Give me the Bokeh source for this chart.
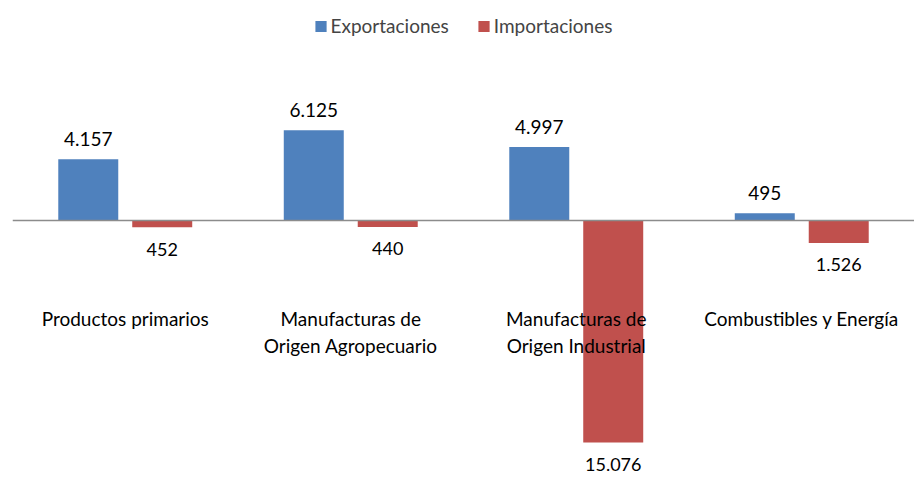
from bokeh.plotting import figure
from bokeh.models import ColumnDataSource, Range1d, Span, Legend, LegendItem
from bokeh.core.properties import value
from bokeh.embed import file_html
from bokeh.resources import INLINE

categories = ["Productos primarios", "Manufacturas de\nOrigen Agropecuario",
              "Manufacturas de\nOrigen Industrial", "Combustibles y Energía"]
exportaciones = [4157, 6125, 4997, 495]
importaciones = [452, 440, 15076, 1526]

BLUE = "#4F81BD"
RED = "#C0504D"
FONT = "Lato"
FS = "19px"

def fmt(v):
    return f"{v:,}".replace(",", ".")

n = len(categories)
xs = list(range(n))
off = 0.164
bw = 0.266

p = figure(width=914, height=477, output_backend="svg", toolbar_location=None,
           x_range=Range1d(-0.5, n - 0.5), y_range=Range1d(-17450, 14938),
           min_border_left=12, min_border_right=0, min_border_top=0, min_border_bottom=0)
p.axis.visible = False
p.grid.visible = False
p.outline_line_color = None

src_e = ColumnDataSource(dict(x=[x - off for x in xs], top=exportaciones, bottom=[0]*n,
                              lab=[fmt(v) for v in exportaciones]))
src_i = ColumnDataSource(dict(x=[x + off for x in xs], top=[0]*n, bottom=[-v for v in importaciones],
                              lab=[fmt(v) for v in importaciones]))

r_e = p.vbar(x="x", top="top", bottom="bottom", width=bw, source=src_e,
             fill_color=BLUE, line_color=None)
r_i = p.vbar(x="x", top="top", bottom="bottom", width=bw, source=src_i,
             fill_color=RED, line_color=None)

p.add_layout(Span(location=0, dimension="width", line_color="#8c8c8c", line_width=1.5))

p.text(x="x", y="top", text="lab", source=src_e, y_offset=-20,
       text_align="center", text_baseline="middle",
       text_font=value(FONT), text_font_size=FS, text_color="#000000")
p.text(x="x", y="bottom", text="lab", source=src_i, y_offset=22,
       text_align="center", text_baseline="middle",
       text_font=value(FONT), text_font_size="18px", text_color="#000000")

line1 = [c.split("\n")[0] for c in categories]
line2 = [c.split("\n")[1] if "\n" in c else "" for c in categories]
src_c = ColumnDataSource(dict(x=xs, y=[0]*n, l1=line1, l2=line2))
p.text(x="x", y="y", text="l1", source=src_c, y_offset=98,
       text_align="center", text_baseline="middle",
       text_font=value(FONT), text_font_size=FS, text_color="#000000")
p.text(x="x", y="y", text="l2", source=src_c, y_offset=125,
       text_align="center", text_baseline="middle",
       text_font=value(FONT), text_font_size=FS, text_color="#000000")

legend = Legend(items=[LegendItem(label="Exportaciones", renderers=[r_e]),
                       LegendItem(label="Importaciones", renderers=[r_i])],
                location="top_center", orientation="horizontal",
                border_line_color=None, background_fill_alpha=0,
                glyph_width=14, glyph_height=14, label_text_font=FONT,
                label_text_font_size=FS, label_standoff=3, spacing=28,
                margin=14, padding=4)
p.add_layout(legend)

open("out.html", "w").write(file_html(p, INLINE))
